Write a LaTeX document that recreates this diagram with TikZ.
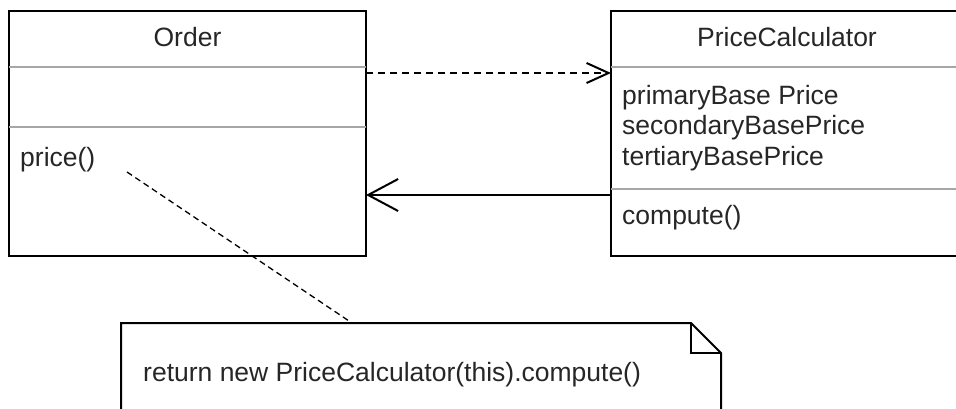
\documentclass[tikz,border=0pt]{standalone}
\usepackage{fontspec}
\setmainfont{Liberation Sans}
\usepackage{tikz}
\usetikzlibrary{positioning,arrows.meta}

\begin{document}
\begin{tikzpicture}[x=1pt, y=-1pt,
    font=\fontsize{26.5}{30.5}\selectfont,
    cls/.style={%
      rectangle, draw=black, line width=2pt, fill=none,
      minimum height=245pt, inner sep=0pt, outer sep=0pt, anchor=north west
    },
    ttl/.style={%
      inner sep=0pt, text=black!85
    },
    mbr/.style={%
      inner sep=0pt, anchor=west, align=left, text=black!85
    },
    sep/.style={draw=gray!70, line width=2pt},
    dep/.style={%
      line width=2pt, dash pattern=on 7pt off 5pt,
      -{Straight Barb[length=22pt,width=20pt]}
    },
    assoc/.style={%
      line width=2pt, -{Straight Barb[length=30pt,width=32pt]}
    },
    notebox/.style={line width=2pt},
    noteline/.style={line width=1.3pt, dash pattern=on 6pt off 4pt}
]
    \useasboundingbox (0,0) rectangle (956,409);

    % classes
    \node[cls, minimum width=357pt] (order) at (9,11)   {};
    \node[cls, minimum width=352pt] (calc)  at (611,11) {};

    \draw[sep] (order.west |- 0,67)  -- (order.east |- 0,67);
    \draw[sep] (order.west |- 0,127) -- (order.east |- 0,127);
    \draw[sep] (calc.west |- 0,67)   -- (calc.east |- 0,67);
    \draw[sep] (calc.west |- 0,189)  -- (calc.east |- 0,189);

    \node[ttl] (ordername) at (187.5,37) {Order};
    \node[ttl] (calcname)  at (787,37)   {PriceCalculator};

    \node[mbr] (price)   at (20,160)  {price()};
    \node[mbr] (attrs)   at (622,128) {primaryBase Price\\secondaryBasePrice\\tertiaryBasePrice};
    \node[mbr] (compute) at (622,218) {compute()};

    % note
    \node[rectangle, draw=none, minimum width=600pt, minimum height=110pt,
          inner sep=0pt, outer sep=0pt, anchor=north west] (note) at (121,323) {};
    \draw[notebox] (note.south west) -- (note.north west)
        -- ([xshift=-30pt]note.north east) -- ([yshift=-30pt]note.north east)
        -- (note.south east);
    \draw[notebox] ([xshift=-30pt]note.north east) -- ++(0,30)
        -- ([yshift=-30pt]note.north east);
    \node[mbr] (code) at ([xshift=22pt, yshift=-52pt]note.north west)
        {return new PriceCalculator(this).compute()};

    \coordinate (pricept) at (127,172);

    \draw[dep]      (order.east |- 0,73)  -- (calc.west |- 0,73);
    \draw[assoc]    (calc.west |- 0,195)  -- (order.east |- 0,195);
    \draw[noteline] (pricept) -- ([xshift=231pt]note.north west);

\end{tikzpicture}
\end{document}
